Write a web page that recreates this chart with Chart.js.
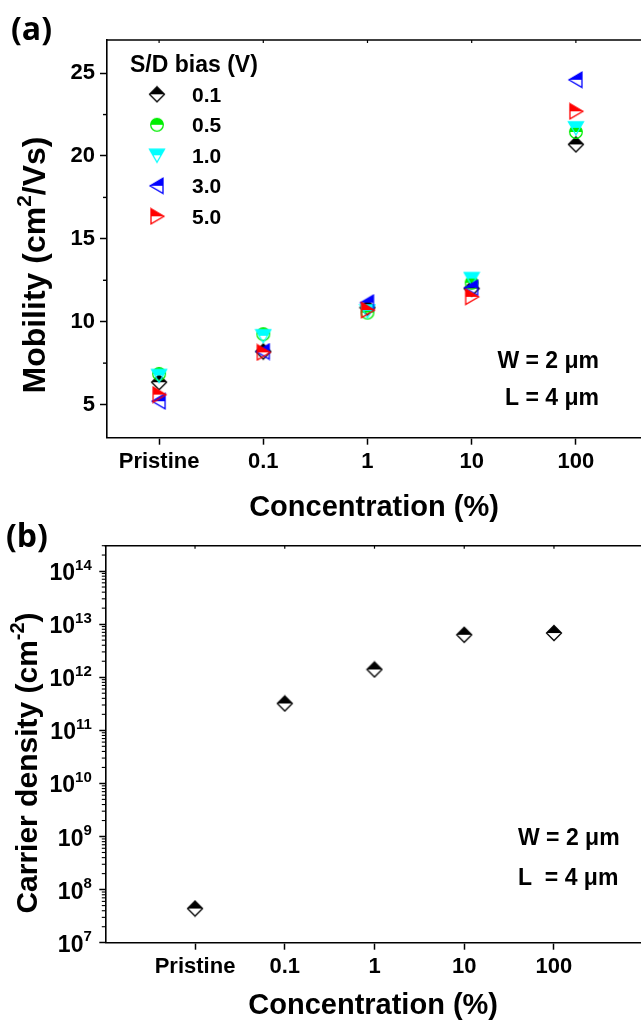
<!DOCTYPE html>
<html>
<head>
<meta charset="utf-8">
<script src="https://cdn.jsdelivr.net/npm/chart.js@4.4.0/dist/chart.umd.min.js"></script>
<style>
body { margin: 0; background: #fff; width: 641px; height: 1030px; position: relative; overflow: hidden; }
canvas { position: absolute; left: 0; }
#cA { top: 0; }
#cB { top: 515px; }
</style>
</head>
<body>
<canvas id="cA" width="641" height="525"></canvas>
<canvas id="cB" width="641" height="515"></canvas>
<script>
// values
const concLabels = ['Pristine', '0.1', '1', '10', '100'];
const biasLabels = ['0.1', '0.5', '1.0', '3.0', '5.0'];
const biasColors = ['#000000', '#00ee00', '#00ffff', '#0000ff', '#ff0000'];
const biasShapes = ['diamond', 'circle', 'down', 'left', 'right'];
const mobility01 = [6.35, 8.2, 10.85, 12.0, 20.7];
const mobility05 = [6.85, 9.25, 10.55, 12.35, 21.45];
const mobility10 = [6.75, 9.15, 10.65, 12.6, 21.7];
const mobility30 = [5.2, 8.2, 11.15, 12.05, 24.6];
const mobility50 = [5.6, 8.15, 10.7, 11.5, 22.7];
const mobilityTicks = [5, 10, 15, 20, 25];
const carrierDensity = [4.4e7, 3.2e11, 1.4e12, 6.3e12, 6.8e12];
const densityExponents = [7, 8, 9, 10, 11, 12, 13, 14];

const mobilitySeries = [mobility01, mobility05, mobility10, mobility30, mobility50];
const FONT = '"Liberation Sans", Arial, sans-serif';

// half-filled (top half) marker, like Origin's "half up" symbols
function marker(shape, color) {
  const s = 18, m = 9;
  const c = document.createElement('canvas');
  c.width = s; c.height = s;
  const g = c.getContext('2d');
  const p = new Path2D();
  if (shape === 'diamond') { p.moveTo(m, m - 7.5); p.lineTo(m + 7.5, m); p.lineTo(m, m + 7.5); p.lineTo(m - 7.5, m); }
  if (shape === 'circle') p.arc(m, m, 6.3, 0, Math.PI * 2);
  if (shape === 'down') { p.moveTo(m - 7.5, m - 6); p.lineTo(m + 7.5, m - 6); p.lineTo(m, m + 7); }
  if (shape === 'left') { p.moveTo(m - 7, m); p.lineTo(m + 6, m - 7.5); p.lineTo(m + 6, m + 7.5); }
  if (shape === 'right') { p.moveTo(m + 7, m); p.lineTo(m - 6, m - 7.5); p.lineTo(m - 6, m + 7.5); }
  p.closePath();
  g.save();
  g.beginPath(); g.rect(0, 0, s, m); g.clip();
  g.fillStyle = color; g.fill(p);
  g.restore();
  g.lineWidth = 1.3; g.strokeStyle = color; g.stroke(p);
  return c;
}
const markersA = biasShapes.map((sh, i) => marker(sh, biasColors[i]));
const markerB = marker('diamond', '#000');

// text with superscripts, y = baseline
function drawRich(ctx, parts, x, y, size, align, angle) {
  ctx.save();
  ctx.translate(x, y);
  ctx.rotate(angle || 0);
  ctx.fillStyle = '#000';
  ctx.textBaseline = 'alphabetic';
  ctx.textAlign = 'left';
  const fontOf = p => 'bold ' + (p.sup ? Math.round(size * 0.65) : size) + 'px ' + FONT;
  let w = 0;
  parts.forEach(p => { ctx.font = fontOf(p); p.w = ctx.measureText(p.t).width; w += p.w; });
  let cx = align === 'right' ? -w : align === 'center' ? -w / 2 : 0;
  parts.forEach(p => {
    ctx.font = fontOf(p);
    ctx.fillText(p.t, cx, p.sup ? -size * 0.45 : 0);
    cx += p.w;
  });
  ctx.restore();
}

function line(ctx, x1, y1, x2, y2, w) {
  ctx.beginPath();
  ctx.lineWidth = w;
  ctx.strokeStyle = '#000';
  ctx.moveTo(x1, y1); ctx.lineTo(x2, y2);
  ctx.stroke();
}

function text(ctx, t, x, y, size, align, family) {
  ctx.font = 'bold ' + size + 'px ' + (family || FONT);
  ctx.fillStyle = '#000';
  ctx.textAlign = align;
  ctx.textBaseline = 'alphabetic';
  ctx.fillText(t, x, y);
}

const decorA = {
  id: 'decorA',
  afterDraw(chart) {
    const ctx = chart.ctx;
    const { left, right, top } = chart.chartArea;
    const xs = chart.scales.x, ys = chart.scales.y;
    ctx.save();
    line(ctx, left - 0.8, top, right, top, 1.6);
    concLabels.forEach((c, i) => {
      const px = xs.getPixelForValue(i);
      line(ctx, px, top, px, top + 3, 1.2);
    });
    mobilityTicks.forEach(v => {
      const py = ys.getPixelForValue(v + 2.5);
      if (py > top) line(ctx, left - 4, py, left, py, 1.4);
    });
    drawRich(ctx, [{ t: 'Mobility (cm' }, { t: '2', sup: true }, { t: '/Vs)' }], 45, 265, 32, 'center', -Math.PI / 2);
    text(ctx, '(a)', 11, 40, 32, 'left', '"Open Sans", sans-serif');
    text(ctx, 'S/D bias (V)', 130, 72, 23, 'left');
    biasLabels.forEach((b, i) => {
      const cy = 94.3 + i * 30.5;
      const img = markersA[i];
      ctx.drawImage(img, 157 - img.width / 2, cy - img.height / 2);
      text(ctx, b, 192, cy + 7.5, 21, 'left');
    });
    text(ctx, 'W = 2 \u03bcm', 599, 368, 23, 'right');
    text(ctx, 'L = 4 \u03bcm', 599, 405, 23, 'right');
    ctx.restore();
  }
};

const decorB = {
  id: 'decorB',
  afterDraw(chart) {
    const ctx = chart.ctx;
    const { left, right, top } = chart.chartArea;
    const xs = chart.scales.x, ys = chart.scales.y;
    ctx.save();
    line(ctx, left - 0.8, top, right, top, 1.6);
    concLabels.forEach((c, i) => {
      const px = xs.getPixelForValue(i);
      line(ctx, px, top, px, top + 3, 1.2);
    });
    densityExponents.forEach(e => {
      for (let k = 2; k <= 9; k++) {
        const v = k * Math.pow(10, e);
        if (v > ys.max) break;
        const py = ys.getPixelForValue(v);
        line(ctx, left - 3.5, py, left, py, 1.1);
      }
      const py = ys.getPixelForValue(Math.pow(10, e));
      drawRich(ctx, [{ t: '10' }, { t: String(e), sup: true }], left - 13.5, py + 9, 23, 'right');
    });
    drawRich(ctx, [{ t: 'Carrier density (cm' }, { t: '-2', sup: true }, { t: ')' }], 37, 248, 30, 'center', -Math.PI / 2);
    text(ctx, '(b)', 6, 32, 32, 'left', '"Open Sans", sans-serif');
    text(ctx, 'W = 2 \u03bcm', 518, 330, 23, 'left');
    text(ctx, 'L  = 4 \u03bcm', 518, 370, 23, 'left');
    ctx.restore();
  }
};

const tickFont = { family: FONT, size: 22, weight: 'bold' };
const titleFont = { family: FONT, size: 29, weight: 'bold', lineHeight: 1 };
const gridStyle = { drawOnChartArea: false, tickLength: 7, tickWidth: 1.5, tickColor: '#000' };
const borderStyle = { color: '#000', width: 1.6 };

new Chart(document.getElementById('cA'), {
  type: 'scatter',
  data: {
    datasets: biasLabels.map((b, i) => ({
      label: b,
      data: mobilitySeries[i].map((v, j) => ({ x: j, y: v })),
      pointStyle: markersA[i],
      pointRadius: 8,
      order: -i
    }))
  },
  options: {
    responsive: false,
    animation: false,
    layout: { autoPadding: false, padding: { top: 40, left: 0, right: 0, bottom: 0 } },
    plugins: { legend: { display: false }, tooltip: { enabled: false } },
    scales: {
      x: {
        type: 'linear', min: -0.5, max: 4.625,
        afterBuildTicks: s => { s.ticks = concLabels.map((c, i) => ({ value: i })); },
        afterFit: s => { s.height = 87.3; },
        ticks: { callback: v => concLabels[v], font: tickFont, color: '#000', padding: 4, maxRotation: 0, autoSkip: false },
        grid: gridStyle,
        border: borderStyle,
        title: { display: true, text: 'Concentration (%)', font: titleFont, color: '#000', padding: { top: 0, bottom: 3 } }
      },
      y: {
        min: 3, max: 27,
        afterBuildTicks: s => { s.ticks = mobilityTicks.map(v => ({ value: v })); },
        afterFit: s => { s.width = 107; },
        ticks: { font: tickFont, color: '#000', padding: 5 },
        grid: gridStyle,
        border: borderStyle
      }
    }
  },
  plugins: [decorA]
});

new Chart(document.getElementById('cB'), {
  type: 'scatter',
  data: {
    datasets: [{
      label: 'Carrier density',
      data: carrierDensity.map((v, j) => ({ x: j, y: v })),
      pointStyle: markerB,
      pointRadius: 8
    }]
  },
  options: {
    responsive: false,
    animation: false,
    layout: { autoPadding: false, padding: { top: 30.7, left: 0, right: 0, bottom: 0 } },
    plugins: { legend: { display: false }, tooltip: { enabled: false } },
    scales: {
      x: {
        type: 'linear', min: -1, max: 4.97,
        afterBuildTicks: s => { s.ticks = concLabels.map((c, i) => ({ value: i })); },
        afterFit: s => { s.height = 87.3; },
        ticks: { callback: v => concLabels[v], font: tickFont, color: '#000', padding: 4, maxRotation: 0, autoSkip: false },
        grid: gridStyle,
        border: borderStyle,
        title: { display: true, text: 'Concentration (%)', font: titleFont, color: '#000', padding: { top: 0, bottom: 10 } }
      },
      y: {
        type: 'logarithmic', min: 1e7, max: 3e14,
        afterBuildTicks: s => { s.ticks = densityExponents.map(e => ({ value: Math.pow(10, e) })); },
        afterFit: s => { s.width = 105.3; },
        ticks: { callback: () => '' },
        grid: Object.assign({}, gridStyle, { tickLength: 6 }),
        border: borderStyle
      }
    }
  },
  plugins: [decorB]
});
</script>
</body>
</html>
